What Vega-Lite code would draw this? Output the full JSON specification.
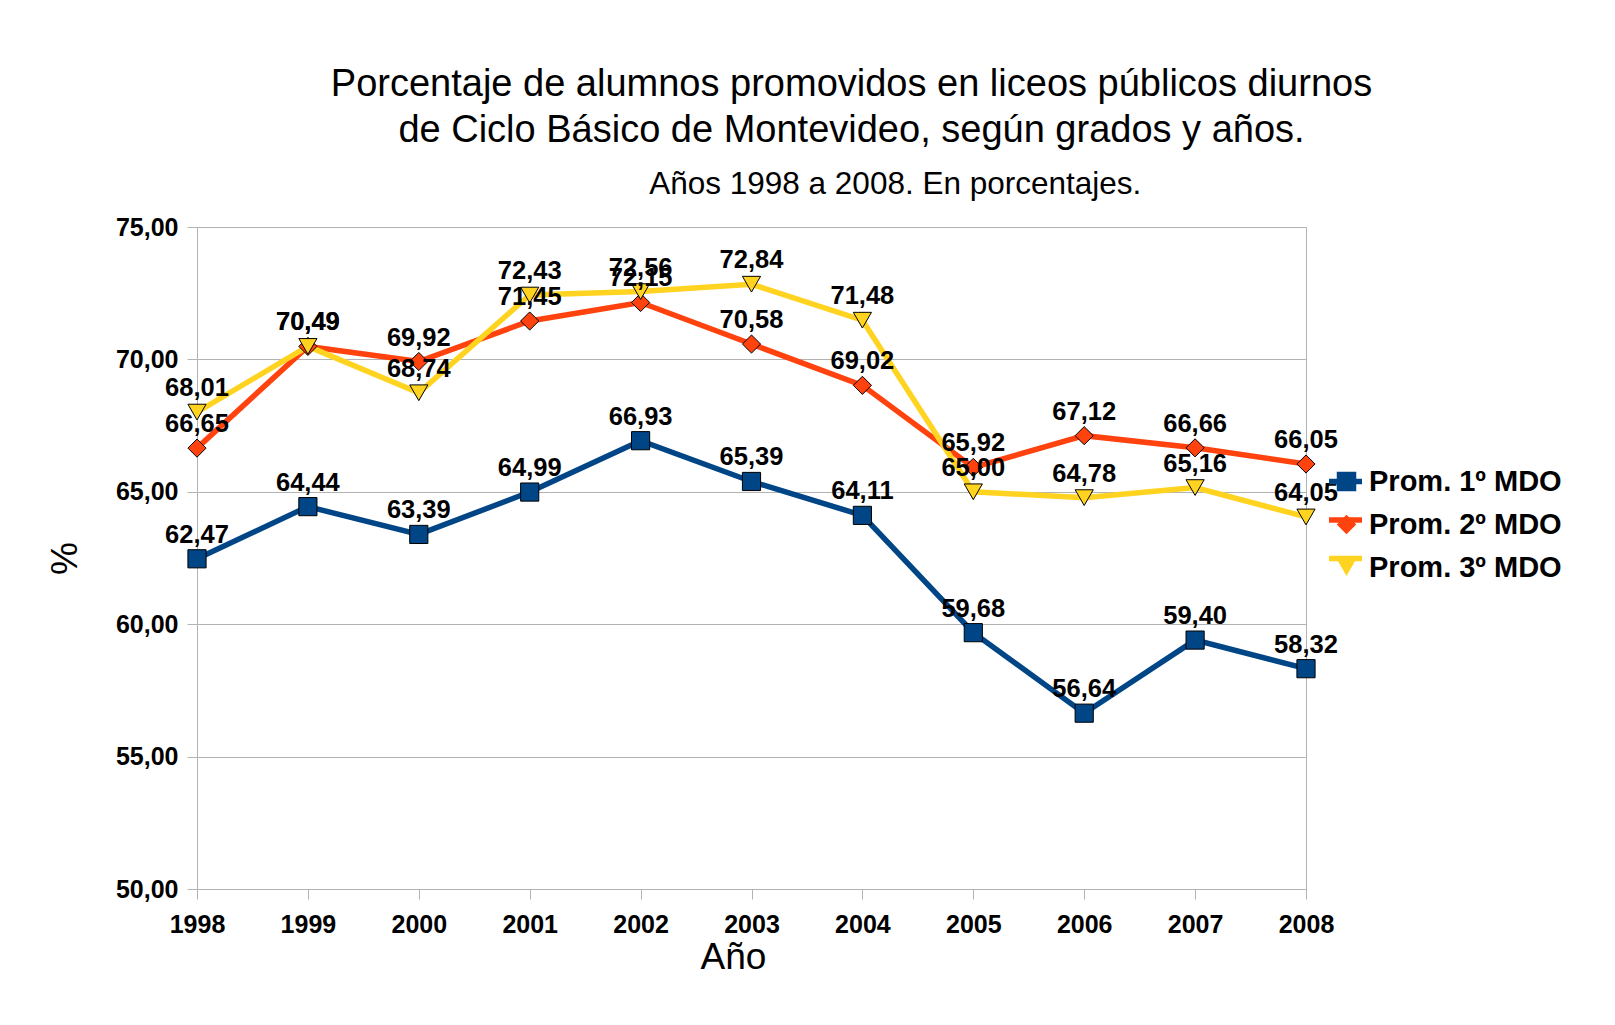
{
  "$schema": "https://vega.github.io/schema/vega-lite/v6.json",
  "width": 1109,
  "height": 662,
  "autosize": {"type": "none"},
  "padding": {"left": 197, "top": 227, "right": 309, "bottom": 136},
  "background": "white",
  "config": {
    "locale": {"number": {"decimal": ",", "thousands": ".", "grouping": [3], "currency": ["", " €"]}},
    "font": "Liberation Sans",
    "view": {"stroke": "#b3b3b3", "strokeWidth": 1},
    "axis": {
      "domainColor": "#b3b3b3",
      "tickColor": "#b3b3b3",
      "gridColor": "#b3b3b3",
      "tickSize": 10,
      "labelFont": "Liberation Sans",
      "labelFontWeight": "bold",
      "labelFontSize": 25,
      "labelColor": "black",
      "titleFont": "Liberation Sans",
      "titleFontWeight": "normal",
      "titleFontSize": 37,
      "titleColor": "black"
    }
  },
  "title": {
    "text": ["Porcentaje de alumnos promovidos en liceos públicos diurnos", "de Ciclo Básico de Montevideo, según grados y años."],
    "subtitle": "\u200b\u00a0\u00a0\u00a0\u00a0\u00a0\u00a0\u00a0\u00a0\u00a0\u00a0Años 1998 a 2008. En porcentajes.",
    "font": "Liberation Sans",
    "subtitleFont": "Liberation Sans",
    "fontSize": 38,
    "fontWeight": "normal",
    "lineHeight": 46,
    "subtitleFontSize": 31.5,
    "subtitleColor": "black",
    "subtitlePadding": 19,
    "color": "black",
    "anchor": "middle",
    "frame": "group",
    "dx": 100,
    "offset": 15
  },
  "data": {
    "values": [
      {"anio": 1998, "serie": "Prom. 1º MDO", "grado": "Prom. 1º MDO", "v": 62.47},
      {"anio": 1999, "serie": "Prom. 1º MDO", "grado": "Prom. 1º MDO", "v": 64.44},
      {"anio": 2000, "serie": "Prom. 1º MDO", "grado": "Prom. 1º MDO", "v": 63.39},
      {"anio": 2001, "serie": "Prom. 1º MDO", "grado": "Prom. 1º MDO", "v": 64.99},
      {"anio": 2002, "serie": "Prom. 1º MDO", "grado": "Prom. 1º MDO", "v": 66.93},
      {"anio": 2003, "serie": "Prom. 1º MDO", "grado": "Prom. 1º MDO", "v": 65.39},
      {"anio": 2004, "serie": "Prom. 1º MDO", "grado": "Prom. 1º MDO", "v": 64.11},
      {"anio": 2005, "serie": "Prom. 1º MDO", "grado": "Prom. 1º MDO", "v": 59.68},
      {"anio": 2006, "serie": "Prom. 1º MDO", "grado": "Prom. 1º MDO", "v": 56.64},
      {"anio": 2007, "serie": "Prom. 1º MDO", "grado": "Prom. 1º MDO", "v": 59.40},
      {"anio": 2008, "serie": "Prom. 1º MDO", "grado": "Prom. 1º MDO", "v": 58.32},
      {"anio": 1998, "serie": "Prom. 2º MDO", "grado": "Prom. 2º MDO", "v": 66.65},
      {"anio": 1999, "serie": "Prom. 2º MDO", "grado": "Prom. 2º MDO", "v": 70.49},
      {"anio": 2000, "serie": "Prom. 2º MDO", "grado": "Prom. 2º MDO", "v": 69.92},
      {"anio": 2001, "serie": "Prom. 2º MDO", "grado": "Prom. 2º MDO", "v": 71.45},
      {"anio": 2002, "serie": "Prom. 2º MDO", "grado": "Prom. 2º MDO", "v": 72.15},
      {"anio": 2003, "serie": "Prom. 2º MDO", "grado": "Prom. 2º MDO", "v": 70.58},
      {"anio": 2004, "serie": "Prom. 2º MDO", "grado": "Prom. 2º MDO", "v": 69.02},
      {"anio": 2005, "serie": "Prom. 2º MDO", "grado": "Prom. 2º MDO", "v": 65.92},
      {"anio": 2006, "serie": "Prom. 2º MDO", "grado": "Prom. 2º MDO", "v": 67.12},
      {"anio": 2007, "serie": "Prom. 2º MDO", "grado": "Prom. 2º MDO", "v": 66.66},
      {"anio": 2008, "serie": "Prom. 2º MDO", "grado": "Prom. 2º MDO", "v": 66.05},
      {"anio": 1998, "serie": "Prom. 3º MDO", "grado": "Prom. 3º MDO", "v": 68.01},
      {"anio": 1999, "serie": "Prom. 3º MDO", "grado": "Prom. 3º MDO", "v": 70.49},
      {"anio": 2000, "serie": "Prom. 3º MDO", "grado": "Prom. 3º MDO", "v": 68.74},
      {"anio": 2001, "serie": "Prom. 3º MDO", "grado": "Prom. 3º MDO", "v": 72.43},
      {"anio": 2002, "serie": "Prom. 3º MDO", "grado": "Prom. 3º MDO", "v": 72.56},
      {"anio": 2003, "serie": "Prom. 3º MDO", "grado": "Prom. 3º MDO", "v": 72.84},
      {"anio": 2004, "serie": "Prom. 3º MDO", "grado": "Prom. 3º MDO", "v": 71.48},
      {"anio": 2005, "serie": "Prom. 3º MDO", "grado": "Prom. 3º MDO", "v": 65.00},
      {"anio": 2006, "serie": "Prom. 3º MDO", "grado": "Prom. 3º MDO", "v": 64.78},
      {"anio": 2007, "serie": "Prom. 3º MDO", "grado": "Prom. 3º MDO", "v": 65.16},
      {"anio": 2008, "serie": "Prom. 3º MDO", "grado": "Prom. 3º MDO", "v": 64.05}
    ]
  },
  "encoding": {
    "x": {
      "field": "anio",
      "type": "quantitative",
      "scale": {"domain": [1998, 2008], "nice": false, "zero": false},
      "axis": {
        "values": [1998, 1999, 2000, 2001, 2002, 2003, 2004, 2005, 2006, 2007, 2008],
        "format": "d",
        "grid": false,
        "labelPadding": 13,
        "labelFlush": false,
        "title": "Año",
        "titleX": 536,
        "titleY": 79,
        "titleBaseline": "alphabetic"
      }
    },
    "y": {
      "field": "v",
      "type": "quantitative",
      "scale": {"domain": [50, 75], "nice": false, "zero": false},
      "axis": {
        "values": [50, 55, 60, 65, 70, 75],
        "format": ".2f",
        "grid": true,
        "labelPadding": 9,
        "title": "%",
        "titleX": -132,
        "titleBaseline": "middle"
      }
    }
  },
  "layer": [
    {
      "mark": {"type": "line", "strokeWidth": 5.5},
      "encoding": {
        "color": {
          "field": "serie",
          "type": "nominal",
          "scale": {"domain": ["Prom. 1º MDO", "Prom. 2º MDO", "Prom. 3º MDO"], "range": ["#004586", "#ff420e", "#ffd320"]},
          "legend": {
            "title": null,
            "orient": "none",
            "legendX": 1129,
            "legendY": 235,
            "padding": 0,
            "symbolType": "stroke",
            "symbolSize": 1089,
            "symbolStrokeWidth": 5.5,
            "labelExpr": "''",
            "labelFontSize": 29,
            "labelFontWeight": "bold",
            "rowPadding": 3.5
          }
        }
      }
    },
    {
      "mark": {"type": "point", "filled": true, "stroke": "black", "strokeWidth": 1, "size": 330, "opacity": 1},
      "encoding": {
        "fill": {
          "field": "grado",
          "type": "nominal",
          "scale": {"range": ["#004586", "#ff420e", "#ffd320"]},
          "legend": {
            "title": null,
            "orient": "none",
            "legendX": 1135,
            "legendY": 240,
            "padding": 0,
            "symbolSize": 380,
            "symbolStrokeColor": "black",
            "symbolStrokeWidth": 1,
            "symbolOpacity": 1,
            "labelFontSize": 29,
            "labelFontWeight": "bold",
            "labelColor": "black",
            "labelOffset": 8,
            "labelLimit": 400,
            "rowPadding": 13
          }
        },
        "shape": {
          "field": "grado",
          "type": "nominal",
          "scale": {"range": ["square", "diamond", "triangle-down"]},
          "legend": {
            "title": null,
            "orient": "none",
            "legendX": 1135,
            "legendY": 240,
            "padding": 0,
            "symbolSize": 380,
            "symbolStrokeColor": "black",
            "symbolStrokeWidth": 1,
            "symbolOpacity": 1,
            "labelFontSize": 29,
            "labelFontWeight": "bold",
            "labelColor": "black",
            "labelOffset": 8,
            "labelLimit": 400,
            "rowPadding": 13
          }
        }
      }
    },
    {
      "mark": {"type": "text", "fontSize": 25.5, "fontWeight": "bold", "font": "Liberation Sans", "baseline": "alphabetic", "dy": -16, "color": "black"},
      "encoding": {
        "text": {"field": "v", "type": "quantitative", "format": ".2f"}
      }
    }
  ]
}
